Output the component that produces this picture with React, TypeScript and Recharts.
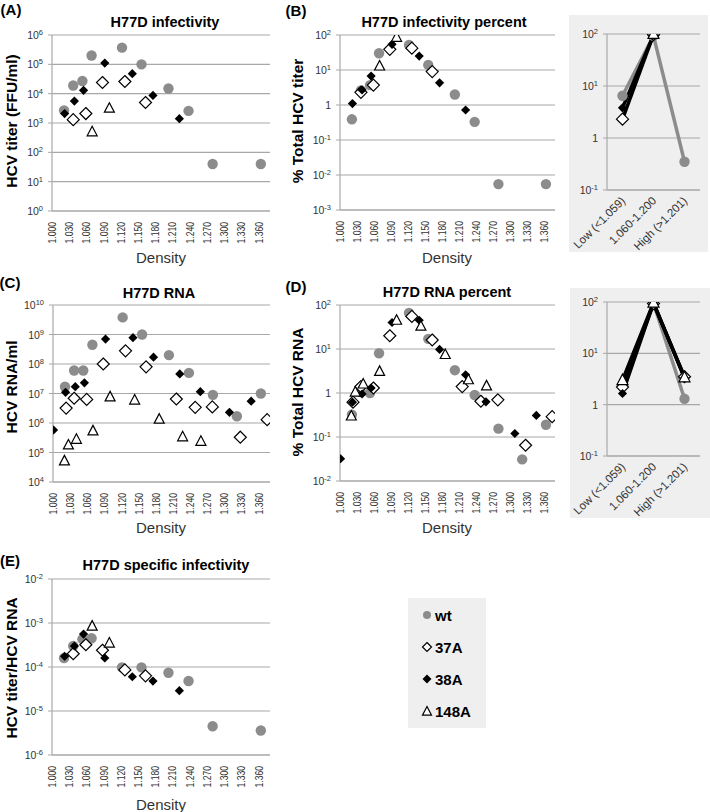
import React from "react";
import { ScatterChart, Scatter, XAxis, YAxis, CartesianGrid, LineChart, Line } from "recharts";

const FONT = "'Liberation Sans', Arial, Helvetica, sans-serif";
const GRAY = "#8c8c8c";
const GRID = "#a8a8a8";
const INK = "#333";

// fraction densities of each virus
const wtDensity = [1.021, 1.037, 1.053, 1.069, 1.122, 1.156, 1.203, 1.238, 1.280, 1.322, 1.364];
const a37Density = [1.023, 1.037, 1.059, 1.088, 1.127, 1.163, 1.216, 1.249, 1.279, 1.328, 1.375];
const a38Density = [1.001, 1.022, 1.039, 1.055, 1.092, 1.140, 1.176, 1.222, 1.258, 1.309, 1.347];
const a148Density = [1.020, 1.027, 1.041, 1.070, 1.100, 1.143, 1.186, 1.227, 1.259];

const densityTicks = [1.0, 1.03, 1.06, 1.09, 1.12, 1.15, 1.18, 1.21, 1.24, 1.27, 1.3, 1.33, 1.36];

// (A) infectivity, FFU/ml
const wtTiter = [2700, 19000, 27000, 200000, 370000, 100000, 15000, 2600, 40, null, 40];
const a37Titer = [null, 1300, 2100, 24000, 26000, 5000, null, null, null, null, null];
const a38Titer = [null, 2100, 5600, 13000, 110000, 48000, 8700, 1400, null, null, null];
const a148Titer = [null, null, null, 500, 3200, null, null, null, null];

// (B) infectivity percent
const wtTiterPct = [0.39, 2.6, 3.7, 30, 52, 14, 2.0, 0.33, 0.0055, null, 0.0055];
const a37TiterPct = [null, 2.3, 3.7, 39, 42, 9, null, null, null, null, null];
const a38TiterPct = [null, 1.1, 2.7, 6.7, 54, 25, 4.3, 0.72, null, null, null];
const a148TiterPct = [null, null, null, 13, 86, null, null, null, null];

// (C) RNA copies/ml
const wtRna = [1.7e7, 6e7, 6e7, 4.5e8, 3.8e9, 1.0e9, 2.0e8, 5.0e7, 9.0e6, 1.7e6, 1.0e7];
const a37Rna = [3.2e6, 6.9e6, 6.3e6, 1.0e8, 2.8e8, 8.0e7, 6.5e6, 3.4e6, 3.5e6, 3.3e5, 1.3e6];
const a38Rna = [5.8e5, 1.1e7, 1.7e7, 2.3e7, 7.0e8, 7.8e8, 1.7e8, 4.6e7, 1.15e7, 2.3e6, 5.5e6];
const a148Rna = [5.2e4, 1.8e5, 2.8e5, 5.4e5, 7.7e6, 6.0e6, 1.35e6, 3.4e5, 2.4e5];

// (D) RNA percent
const wtRnaPct = [0.32, 1.05, 1.0, 8.0, 66, 17, 3.3, 0.9, 0.155, 0.031, 0.19];
const a37RnaPct = [0.62, 1.4, 1.3, 20, 55, 16, 1.4, 0.65, 0.7, 0.065, 0.29];
const a38RnaPct = [0.032, 0.62, 0.95, 1.3, 40, 45, 9.8, 2.6, 0.63, 0.12, 0.31];
const a148RnaPct = [0.3, 1.05, 1.6, 3.1, 45, 33, 7.5, 2.0, 1.45];

// (E) specific infectivity
const wtSpec = [1.6e-4, 3.0e-4, 4.3e-4, 4.5e-4, 9.8e-5, 9.8e-5, 7.4e-5, 4.8e-5, 4.5e-6, null, 3.6e-6];
const a37Spec = [null, 2.0e-4, 3.2e-4, 2.4e-4, 8.6e-5, 6.3e-5, null, null, null, null, null];
const a38Spec = [null, 1.75e-4, 3.0e-4, 5.6e-4, 1.6e-4, 6.0e-5, 4.8e-5, 2.9e-5, null, null, null];
const a148Spec = [null, null, null, 8.5e-4, 3.5e-4, null, null, null, null];

// insets: percent by density class
const classes = ["Low (<1.059)", "1.060-1.200", "High (>1.201)"];
const wtClassTiter = [6.5, 92, 0.35];
const a37ClassTiter = [2.3, 97, null];
const a38ClassTiter = [3.8, 95, null];
const a148ClassTiter = [null, 100, null];
const wtClassRna = [2.3, 95, 1.3];
const a37ClassRna = [2.2, 93, 3.5];
const a38ClassRna = [1.65, 95, 3.3];
const a148ClassRna = [3.0, 97, 3.4];

const pts = (dens: number[], vals: (number | null)[]) =>
  dens.map((d, i) => ({ x: d, y: vals[i] })).filter((p) => p.y != null);

const classRows = (wt: any[], a37: any[], a38: any[], a148: any[]) =>
  classes.map((c, i) => ({ cat: c, wt: wt[i], a37: a37[i], a38: a38[i], a148: a148[i] }));

const CircleMark = (cx: number, cy: number, r = 5.2) => <circle cx={cx} cy={cy} r={r} fill={GRAY} />;
const OpenDiamond = (cx: number, cy: number, s = 6) => (
  <polygon points={`${cx},${cy - s} ${cx + s},${cy} ${cx},${cy + s} ${cx - s},${cy}`} fill="#fff" stroke="#000" strokeWidth={1.2} />
);
const FilledDiamond = (cx: number, cy: number, s = 4.6) => (
  <polygon points={`${cx},${cy - s} ${cx + s},${cy} ${cx},${cy + s} ${cx - s},${cy}`} fill="#000" />
);
const Triangle = (cx: number, cy: number, s = 5) => (
  <polygon points={`${cx},${cy - s * 1.1} ${cx + s},${cy + s * 0.8} ${cx - s},${cy + s * 0.8}`} fill="#fff" stroke="#000" strokeWidth={1.2} />
);

const PowTick = (props: any) => {
  const { x, y, payload, plainOne } = props;
  const e = Math.round(Math.log10(payload.value));
  if (plainOne && e === 0)
    return <text x={x} y={y} dy={4} textAnchor="end" fontSize={10.5} fill={INK} fontFamily={FONT}>1</text>;
  return (
    <text x={x} y={y} dy={4} textAnchor="end" fontSize={10.5} fill={INK} fontFamily={FONT}>
      10<tspan fontSize={7.5} dy={-4}>{e}</tspan>
    </text>
  );
};

const DensTick = (props: any) => {
  const { x, y, payload } = props;
  return (
    <text x={x} y={y} dy={4} transform={`rotate(-90 ${x} ${y})`} textAnchor="end" fontSize={11} fill={INK} fontFamily={FONT}
      textLength={21.5} lengthAdjust="spacingAndGlyphs">
      {Number(payload.value).toFixed(3)}
    </text>
  );
};

const CatTick = (props: any) => {
  const { x, y, payload } = props;
  return (
    <text x={x} y={y} dy={5} transform={`rotate(-45 ${x} ${y})`} textAnchor="end" fontSize={11.5} fill={INK} fontFamily={FONT}>
      {payload.value}
    </text>
  );
};

function Txt({ x, y, children, size = 14, bold = false, rotate = 0, color = "#000" }: any) {
  return (
    <div style={{ position: "absolute", left: x, top: y, transform: `translate(-50%,-50%) rotate(${rotate}deg)`, fontSize: size, fontWeight: bold ? "bold" : "normal", whiteSpace: "nowrap", color, lineHeight: 1 }}>
      {children}
    </div>
  );
}

function ScatterPanel({ left, top, width, height, margin, yTicks, plainOne, wt, a37, a38, a148 }: any) {
  return (
    <div style={{ position: "absolute", left, top }}>
      <ScatterChart width={width} height={height} margin={margin}>
        <CartesianGrid vertical={false} stroke={GRID} strokeWidth={1.2} />
        <XAxis type="number" dataKey="x" domain={[1.0, 1.38]} ticks={densityTicks} interval={0} tick={<DensTick />} tickLine={false} tickMargin={5} axisLine={{ stroke: GRID, strokeWidth: 1.2 }} height={40} allowDataOverflow />
        <YAxis type="number" dataKey="y" scale="log" domain={[yTicks[0], yTicks[yTicks.length - 1]]} ticks={yTicks} interval={0} tick={(p: any) => <PowTick {...p} plainOne={plainOne} />} width={40} tickSize={4} tickMargin={5} axisLine={{ stroke: GRID, strokeWidth: 1.2 }} tickLine={{ stroke: GRID }} allowDataOverflow />
        <Scatter data={pts(wtDensity, wt)} shape={(p: any) => CircleMark(p.cx, p.cy)} isAnimationActive={false} />
        <Scatter data={pts(a37Density, a37)} shape={(p: any) => OpenDiamond(p.cx, p.cy)} isAnimationActive={false} />
        <Scatter data={pts(a38Density, a38)} shape={(p: any) => FilledDiamond(p.cx, p.cy)} isAnimationActive={false} />
        <Scatter data={pts(a148Density, a148)} shape={(p: any) => Triangle(p.cx, p.cy)} isAnimationActive={false} />
      </ScatterChart>
    </div>
  );
}

const dotOf = (fn: (cx: number, cy: number) => any) => (p: any) =>
  p.cy == null || p.value == null ? <g key={p.index} /> : <g key={p.index}>{fn(p.cx, p.cy)}</g>;

function InsetPanel({ left, top, width, height, margin, rows }: any) {
  return (
    <div style={{ position: "absolute", left, top, width, height, background: "#efefef" }}>
      <LineChart width={width} height={height} margin={margin} data={rows}>
        <CartesianGrid vertical={false} stroke={GRID} strokeWidth={1.2} />
        <XAxis dataKey="cat" interval={0} tick={<CatTick />} tickLine={false} tickMargin={2} axisLine={{ stroke: GRID, strokeWidth: 1.2 }} height={55} padding={{ left: 15.5, right: 15.5 }} />
        <YAxis type="number" scale="log" domain={[0.1, 100]} ticks={[0.1, 1, 10, 100]} interval={0} tick={(p: any) => <PowTick {...p} plainOne />} width={32} tickSize={4} tickMargin={5} axisLine={{ stroke: GRID, strokeWidth: 1.2 }} tickLine={{ stroke: GRID }} allowDataOverflow />
        <Line dataKey="wt" stroke={GRAY} strokeWidth={3.5} dot={dotOf((x, y) => CircleMark(x, y))} isAnimationActive={false} />
        <Line dataKey="a37" stroke="#000" strokeWidth={3.5} dot={dotOf((x, y) => OpenDiamond(x, y))} isAnimationActive={false} />
        <Line dataKey="a38" stroke="#000" strokeWidth={3.5} dot={dotOf((x, y) => FilledDiamond(x, y))} isAnimationActive={false} />
        <Line dataKey="a148" stroke="#000" strokeWidth={3.5} dot={dotOf((x, y) => Triangle(x, y, 5.5))} isAnimationActive={false} />
      </LineChart>
    </div>
  );
}

const legendItems = [
  { name: "wt", mark: CircleMark(6, 6, 4) },
  { name: "37A", mark: OpenDiamond(6, 6, 4.5) },
  { name: "38A", mark: FilledDiamond(6, 6, 4.5) },
  { name: "148A", mark: Triangle(6, 6.5, 4.5) },
];

export default function App() {
  return (
    <div style={{ position: "absolute", left: 0, top: 0, width: 710, height: 812, background: "#fff", fontFamily: FONT, overflow: "hidden" }}>
      <ScatterPanel left={0} top={0} width={280} height={270} margin={{ top: 35, right: 10, bottom: 19, left: 12 }}
        yTicks={[1, 10, 1e2, 1e3, 1e4, 1e5, 1e6]} wt={wtTiter} a37={a37Titer} a38={a38Titer} a148={a148Titer} />
      <ScatterPanel left={288} top={0} width={275} height={270} margin={{ top: 35, right: 8, bottom: 20, left: 12 }}
        yTicks={[1e-3, 1e-2, 0.1, 1, 10, 100]} plainOne wt={wtTiterPct} a37={a37TiterPct} a38={a38TiterPct} a148={a148TiterPct} />
      <ScatterPanel left={0} top={270} width={280} height={270} margin={{ top: 35, right: 10, bottom: 18, left: 13 }}
        yTicks={[1e4, 1e5, 1e6, 1e7, 1e8, 1e9, 1e10]} wt={wtRna} a37={a37Rna} a38={a38Rna} a148={a148Rna} />
      <ScatterPanel left={288} top={270} width={275} height={270} margin={{ top: 35, right: 8, bottom: 19, left: 12 }}
        yTicks={[1e-2, 0.1, 1, 10, 100]} plainOne wt={wtRnaPct} a37={a37RnaPct} a38={a38RnaPct} a148={a148RnaPct} />
      <ScatterPanel left={0} top={540} width={280} height={272} margin={{ top: 39, right: 10, bottom: 17, left: 12 }}
        yTicks={[1e-6, 1e-5, 1e-4, 1e-3, 1e-2]} wt={wtSpec} a37={a37Spec} a38={a38Spec} a148={a148Spec} />

      <InsetPanel left={569} top={15} width={139} height={237} margin={{ top: 19, right: 8, bottom: 7, left: 6 }}
        rows={classRows(wtClassTiter, a37ClassTiter, a38ClassTiter, a148ClassTiter)} />
      <InsetPanel left={570} top={288} width={140} height={230} margin={{ top: 14, right: 10, bottom: 7, left: 5 }}
        rows={classRows(wtClassRna, a37ClassRna, a38ClassRna, a148ClassRna)} />

      <Txt x={11} y={9} size={15} bold>(A)</Txt>
      <Txt x={296} y={10} size={15} bold>(B)</Txt>
      <Txt x={10} y={282} size={15} bold>(C)</Txt>
      <Txt x={296} y={286} size={15} bold>(D)</Txt>
      <Txt x={10} y={560} size={15} bold>(E)</Txt>

      <Txt x={165} y={22} size={14.5} bold>H77D infectivity</Txt>
      <Txt x={444} y={22} size={14.5} bold>H77D infectivity percent</Txt>
      <Txt x={159} y={293} size={14.5} bold>H77D RNA</Txt>
      <Txt x={447} y={292} size={14.5} bold>H77D RNA percent</Txt>
      <Txt x={166} y={565} size={14.5} bold>H77D specific infectivity</Txt>

      <Txt x={12} y={121} size={15.5} bold rotate={-90}>HCV titer (FFU/ml)</Txt>
      <Txt x={298} y={121} size={15.5} bold rotate={-90}>% Total HCV titer</Txt>
      <Txt x={12} y={387} size={15.5} bold rotate={-90}>HCV RNA/ml</Txt>
      <Txt x={298} y={392} size={15.5} bold rotate={-90}>% Total HCV RNA</Txt>
      <Txt x={12} y={668} size={15.5} bold rotate={-90}>HCV titer/HCV RNA</Txt>

      <Txt x={161} y={257} size={15} color={INK}>Density</Txt>
      <Txt x={447} y={257} size={15} color={INK}>Density</Txt>
      <Txt x={161} y={527} size={15} color={INK}>Density</Txt>
      <Txt x={447} y={527} size={15} color={INK}>Density</Txt>
      <Txt x={161} y={804} size={15} color={INK}>Density</Txt>

      <div style={{ position: "absolute", left: 408, top: 598, width: 78, height: 130, background: "#efefef" }}>
        {legendItems.map((it, i) => (
          <div key={it.name} style={{ position: "absolute", left: 13, top: 9 + i * 32.3, height: 16, display: "flex", alignItems: "center" }}>
            <svg width={12} height={13} style={{ marginRight: 2 }}>{it.mark}</svg>
            <span style={{ fontSize: 15, fontWeight: "bold" }}>{it.name}</span>
          </div>
        ))}
      </div>
    </div>
  );
}
